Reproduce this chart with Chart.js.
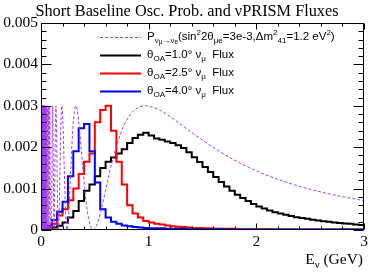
<!DOCTYPE html>
<html><head><meta charset="utf-8">
<script src="https://cdn.jsdelivr.net/npm/chart.js@4/dist/chart.umd.min.js"></script>
<style>html,body{margin:0;padding:0;background:#fff;}#wrap{position:relative;width:372px;height:273px;}</style>
</head><body><div id="wrap"><canvas id="c" width="372" height="273"></canvas></div>
<script>
// ---- data ----
const binLowE = [0.00,0.05,0.10,0.15,0.20,0.25,0.30,0.35,0.40,0.45,0.50,0.55,0.60,0.65,0.70,0.75,0.80,0.85,0.90,0.95,
1.00,1.05,1.10,1.15,1.20,1.25,1.30,1.35,1.40,1.45,1.50,1.55,1.60,1.65,1.70,1.75,1.80,1.85,1.90,1.95,
2.00,2.05,2.10,2.15,2.20,2.25,2.30,2.35,2.40,2.45,2.50,2.55,2.60,2.65,2.70,2.75,2.80,2.85,2.90,2.95];
const binWidth = 0.05;
const flux1p0 = [0.00001,0.00003,0.00006,0.00010,0.00018,0.00030,0.00046,0.00070,0.00095,0.00110,0.00130,0.00150,0.00165,0.00175,0.00185,0.00195,0.00210,0.00222,0.00230,0.00235,
0.00228,0.00221,0.00218,0.00214,0.00210,0.00205,0.00198,0.00188,0.00176,0.00164,0.00152,0.00140,0.00128,0.00116,0.00105,0.00095,0.00085,0.00077,0.00070,0.00063,
0.00057,0.00052,0.00047,0.00043,0.00040,0.00037,0.00034,0.00031,0.00029,0.00027,0.00025,0.00023,0.00021,0.00020,0.00018,0.00017,0.00016,0.00015,0.00013,0.00012];
const flux2p5 = [0.00002,0.00006,0.00015,0.00035,0.00050,0.00072,0.00100,0.00135,0.00165,0.00185,0.00260,0.00290,0.00300,0.00240,0.00165,0.00110,0.00060,0.00040,0.00030,0.00022,
0.00018,0.00015,0.00013,0.00011,0.00009,0.00008,0.00007,0.00006,0.00005,0.00005,0.00004,0.00004,0.00003,0.00003,0.00003,0.00003,0.00002,0.00002,0.00002,0.00002,
0.00002,0.00002,0.00002,0.00001,0.00001,0.00001,0.00001,0.00001,0.00001,0.00001,0.00001,0.00001,0.00001,0.00001,0.00001,0.00001,0.00001,0.00001,0.00001,0.00001];
const flux4p0 = [0.00003,0.00010,0.00024,0.00044,0.00068,0.00130,0.00190,0.00246,0.00256,0.00190,0.00115,0.00050,0.00030,0.00020,0.00015,0.00011,0.00009,0.00007,0.00006,0.00005,
0.00004,0.00004,0.00004,0.00003,0.00003,0.00003,0.00003,0.00002,0.00002,0.00002,0.00002,0.00002,0.00002,0.00002,0.00001,0.00001,0.00001,0.00001,0.00001,0.00001,
0.00001,0.00001,0.00001,0.00001,0.00001,0.00001,0.00001,0.00001,0.00001,0.00001,0.00001,0.00001,0.00001,0.00001,0.00001,0.00001,0.00001,0.00001,0.00001,0.00001];
// oscillation probability curve
const probE = [0.01198,0.01244,0.01294,0.01348,0.01406,0.0147,0.0154,0.01617,0.01702,0.01797,0.01902,
0.0202,0.0206,0.0211,0.0216,0.0221,0.0226,0.0231,0.0237,0.0243,0.0249,0.0255,0.0262,0.0270,0.0277,0.0285,0.0294,0.0303,0.0313,0.0323,0.0335,0.0347,0.0359,0.0373,0.0388,0.0404,0.0422,0.0441,0.0462,0.0485,0.0511,0.0539,0.0571,0.0606,0.0647,0.0693,0.0746,0.0809,0.0882,
0.0970,0.0995,0.1021,0.1049,0.1078,0.1109,0.1141,0.1176,0.1213,0.1252,0.1294,0.1338,0.1386,0.1437,0.1493,0.1552,0.1617,0.1687,0.1764,0.1848,0.1941,0.2043,0.2156,0.2283,0.2426,0.2587,0.2772,0.2985,0.3234,0.3528,0.3881,0.4312,0.4851,
0.5175,0.5544,0.5970,0.6468,0.7056,0.7762,0.8624,0.9703,1.0,1.1,1.2,1.4,1.6,1.8,2.0,2.2,2.4,2.6,2.8,3.0];
const probP = [0.003,0,0.003,0,0.003,0,0.003,0,0.003,0,0.003,
0.003,0,0.003,0,0.003,0,0.003,0,0.003,0,0.003,0,0.003,0,0.003,0,0.003,0,0.003,0,0.003,0,0.003,0,0.003,0,0.003,0,0.003,0,0.003,0,0.003,0,0.003,0,0.003,0,
0,0.000439,0.0015,0.002561,0.003,0.002561,0.0015,0.000439,0,0.000439,0.0015,0.002561,0.003,0.002561,0.0015,0.000439,0,0.000439,0.0015,0.002561,0.003,0.002561,0.0015,0.000439,0,0.000439,0.0015,0.002561,0.003,0.002561,0.0015,0.000439,0,
0.000114,0.000439,0.000926,0.0015,0.002074,0.002561,0.002886,0.003,0.002993,0.002898,0.002737,0.002356,0.001994,0.001683,0.001430,0.001223,0.001055,0.000918,0.000805,0.000710];
const xTickLabels = ['0','1','2','3'];
const yTickLabels = ['0','0.001','0.002','0.003','0.004','0.005'];

const SERIF = '"Liberation Serif", "DejaVu Serif", serif';
const SANS = '"Liberation Sans", Arial, sans-serif';

function histPoints(vals){
  const pts = binLowE.map((e,i)=>({x:e,y:vals[i]}));
  pts.push({x:binLowE[binLowE.length-1]+binWidth,y:vals[vals.length-1]});
  return pts;
}

function drawRich(ctx, parts, x, y, size, align){
  const specs = parts.map(([t,m])=>{
    let s=size, dy=0;
    if(m===1){s=size*0.7; dy=size*0.3;}
    else if(m===2){s=size*0.7; dy=-size*0.38;}
    else if(m===3){s=size*0.55; dy=size*0.45;}
    ctx.font = s+'px '+ctx._fam;
    return {t,s,dy,w:ctx.measureText(t).width};
  });
  let total = specs.reduce((a,b)=>a+b.w,0);
  let cx = align==='right' ? x-total : x;
  for(const sp of specs){
    ctx.font = sp.s+'px '+ctx._fam;
    ctx.fillText(sp.t, cx, y+sp.dy);
    cx += sp.w;
  }
}

const decor = {
  id:'decor',
  afterDatasetsDraw(chart){
    const {ctx, chartArea:a, scales:{x,y}} = chart;
    ctx.save();
    ctx.strokeStyle='#000'; ctx.lineWidth=1;
    const L=Math.round(a.left)+0.5, R=Math.round(a.right)-0.5, T=Math.round(a.top)+0.5, B=Math.round(a.bottom)-0.5;
    ctx.strokeRect(L,T,R-L,B-T);
    ctx.beginPath();
    for(let i=0;i<=25;i++){
      const v=i*0.0002; const py=Math.round(y.getPixelForValue(v))+0.5;
      const len = i%5===0?10:5;
      ctx.moveTo(L,py); ctx.lineTo(L+len,py);
      ctx.moveTo(R,py); ctx.lineTo(R-len,py);
    }
    for(let i=0;i<=15;i++){
      const v=i*0.2; const px=Math.round(x.getPixelForValue(v))+0.5;
      const len = i%5===0?6:3;
      ctx.moveTo(px,B); ctx.lineTo(px,B-len);
      ctx.moveTo(px,T); ctx.lineTo(px,T+len);
    }
    ctx.stroke();
    ctx.restore();
  },
  afterDraw(chart){
    const ctx = chart.ctx;
    ctx.save();
    ctx.fillStyle='#000';
    ctx.textBaseline='middle';
    ctx.textAlign='center';
    ctx.font='16.3px '+SERIF;
    ctx.fillText('Short Baseline Osc. Prob. and \u03BDPRISM Fluxes', 187, 12);
    ctx.textAlign='left';
    ctx._fam = SERIF;
    drawRich(ctx, [['E',0],['\u03BD',1],[' (GeV)',0]], 363, 260, 15.5, 'right');
    const rows = [
      {y:37, color:'#a63cf0', dash:[3,2], w:1, parts:[['P',0],['\u03BD',1],['\u03BC',3],['\u2192\u03BD',1],['e',3],['(sin',0],['2',2],['2\u03B8',0],['\u03BCe',1],['=3e-3,\u0394m',0],['2',2],['41',1],['=1.2 eV',0],['2',2],[')',0]]},
      {y:55, color:'#000000', dash:[], w:2, parts:[['\u03B8',0],['OA',1],['=1.0\u00B0 \u03BD',0],['\u03BC',1],['  Flux',0]]},
      {y:73, color:'#ff0000', dash:[], w:2, parts:[['\u03B8',0],['OA',1],['=2.5\u00B0 \u03BD',0],['\u03BC',1],['  Flux',0]]},
      {y:91, color:'#0000ff', dash:[], w:2, parts:[['\u03B8',0],['OA',1],['=4.0\u00B0 \u03BD',0],['\u03BC',1],['  Flux',0]]},
    ];
    ctx._fam = SANS;
    for(const r of rows){
      ctx.strokeStyle=r.color; ctx.lineWidth=r.w; ctx.setLineDash(r.dash);
      ctx.beginPath(); ctx.moveTo(100,r.y+0.5); ctx.lineTo(141,r.y+0.5); ctx.stroke();
      ctx.setLineDash([]);
      ctx.textAlign='left';
      drawRich(ctx, r.parts, 147, r.y, 11.5, 'left');
    }
    ctx.restore();
  }
};

new Chart(document.getElementById('c'), {
  type:'line',
  data:{datasets:[
    {label:'prob', data:probE.map((e,i)=>({x:e,y:probP[i]})), borderColor:'#a63cf0', borderWidth:1, borderDash:[3,2], pointRadius:0, cubicInterpolationMode:'monotone', order:0},
    {label:'4.0', data:histPoints(flux4p0), borderColor:'#0000ff', borderWidth:2, stepped:'before', pointRadius:0, order:1},
    {label:'2.5', data:histPoints(flux2p5), borderColor:'#ff0000', borderWidth:2, stepped:'before', pointRadius:0, order:2},
    {label:'1.0', data:histPoints(flux1p0), borderColor:'#000000', borderWidth:2, stepped:'before', pointRadius:0, order:3}
  ]},
  options:{
    responsive:false, animation:false, devicePixelRatio:1,
    layout:{padding:{top:23,right:8,left:0,bottom:0}},
    plugins:{legend:{display:false}, tooltip:{enabled:false}, title:{display:false}},
    scales:{
      x:{type:'linear', min:0, max:3, afterFit:s=>{s.height=43;},
        grid:{display:false, drawTicks:false}, border:{display:false},
        ticks:{stepSize:1, padding:3, maxRotation:0, autoSkip:false, color:'#000', font:{family:SERIF,size:15.5},
          callback:(v)=>xTickLabels[v]!==undefined?xTickLabels[v]:''}},
      y:{type:'linear', min:0, max:0.005, afterFit:s=>{s.width=41;},
        grid:{display:false, drawTicks:false}, border:{display:false},
        ticks:{stepSize:0.001, padding:3, color:'#000', font:{family:SERIF,size:15.5},
          callback:(v)=>{const i=Math.round(v/0.001); return yTickLabels[i]!==undefined?yTickLabels[i]:'';}}}
    }
  },
  plugins:[decor]
});
</script></body></html>
